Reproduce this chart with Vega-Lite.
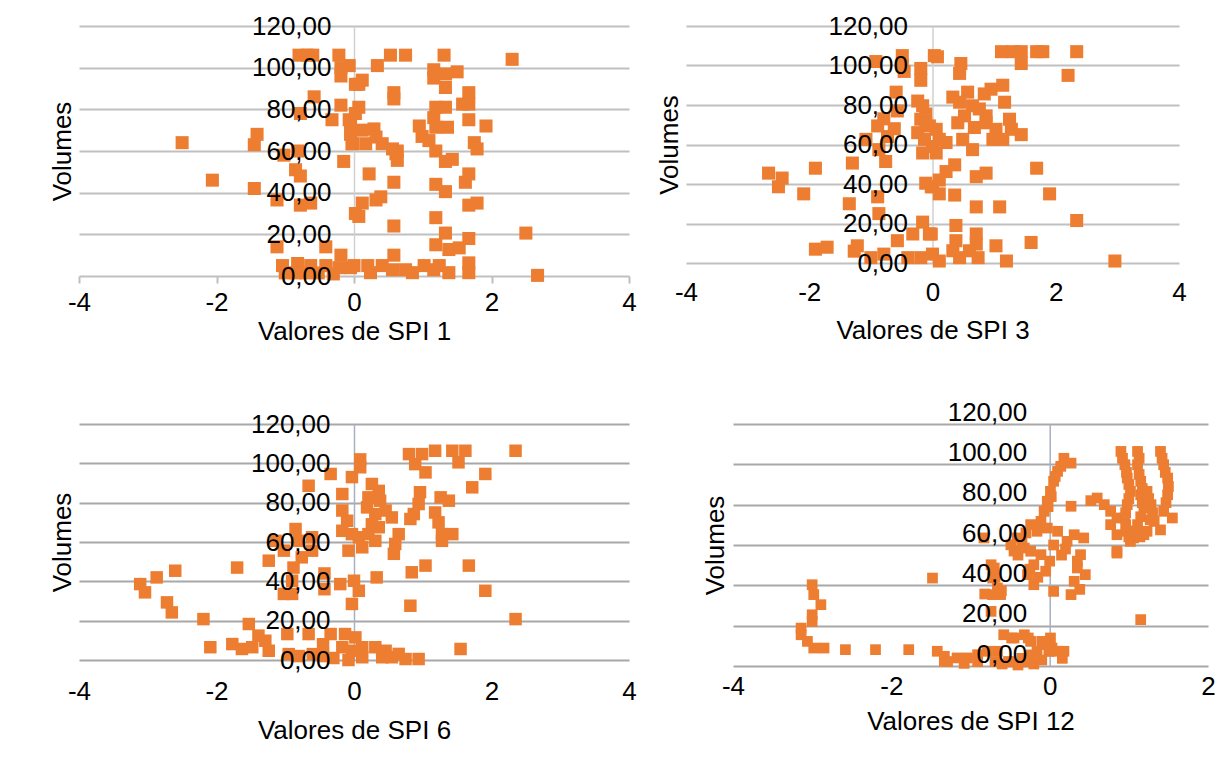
{
  "$schema": "https://vega.github.io/schema/vega-lite/v6.json",
  "padding": {"left": 49, "top": 13, "right": 0, "bottom": 0},
  "background": "white",
  "config": {
    "view": {"stroke": null},
    "axis": {
      "labelFont": "Liberation Sans", "titleFont": "Liberation Sans",
      "labelFontSize": 26, "titleFontSize": 26, "labelColor": "#000000", "titleColor": "#000000",
      "titleFontWeight": "normal", "labelFlush": false, "labelOverlap": false, "labelBound": false
    }
  },
  "datasets": {
    "p1": [
      {"x":-2.5,"y":64},{"x":-2.06,"y":46},{"x":-1.45,"y":42},{"x":-1.41,"y":68},{"x":-1.45,"y":63},
      {"x":-0.8,"y":106},{"x":-0.68,"y":106},{"x":-0.6,"y":106},{"x":-0.22,"y":106},
      {"x":-0.19,"y":100},{"x":-0.07,"y":101},{"x":-0.19,"y":96},{"x":0.02,"y":92},
      {"x":-0.58,"y":86},{"x":-0.78,"y":78},{"x":-0.19,"y":82},{"x":-0.32,"y":75},{"x":-0.05,"y":73},{"x":-0.05,"y":68},{"x":-0.03,"y":63.5},{"x":-0.15,"y":55},
      {"x":-1.02,"y":58},{"x":-0.82,"y":60},{"x":-0.85,"y":51},{"x":-0.78,"y":48},
      {"x":-1.12,"y":36.5},{"x":-0.78,"y":34},{"x":-0.63,"y":35},{"x":0.02,"y":30},
      {"x":-1.12,"y":14},{"x":-0.41,"y":14},{"x":-0.19,"y":10},
      {"x":-1.04,"y":5},{"x":-0.82,"y":6},{"x":-0.63,"y":5},{"x":-0.41,"y":5},{"x":-0.22,"y":4},{"x":-0.05,"y":4},
      {"x":-1.0,"y":1.5},{"x":-0.85,"y":1.5},{"x":-0.7,"y":1.5},{"x":-0.52,"y":1.5},{"x":-0.3,"y":1},
      {"x":0.34,"y":101},{"x":0.53,"y":106},{"x":0.75,"y":106},{"x":0.12,"y":94},{"x":0.07,"y":92},{"x":0.58,"y":88},{"x":0.58,"y":85},
      {"x":1.31,"y":106},{"x":2.3,"y":104},{"x":1.16,"y":99},{"x":1.16,"y":95},{"x":1.33,"y":97},{"x":1.5,"y":98},{"x":1.33,"y":90.5},
      {"x":1.67,"y":88},{"x":1.58,"y":82.5},{"x":1.67,"y":82.5},{"x":1.67,"y":75},{"x":1.92,"y":72},{"x":1.75,"y":64},{"x":1.79,"y":61},
      {"x":1.19,"y":81},{"x":1.33,"y":81},{"x":1.16,"y":76},{"x":1.19,"y":71.4},{"x":1.36,"y":71.4},
      {"x":0.95,"y":72},{"x":0.99,"y":67},{"x":1.09,"y":65},{"x":1.19,"y":60},
      {"x":1.33,"y":55},{"x":1.43,"y":56},{"x":1.67,"y":49},{"x":1.62,"y":45},{"x":1.19,"y":44},{"x":1.33,"y":40.5},{"x":1.67,"y":34},{"x":1.79,"y":35},
      {"x":1.19,"y":28},{"x":1.33,"y":20.6},{"x":1.19,"y":15},{"x":1.67,"y":18},{"x":2.5,"y":20.6},{"x":2.67,"y":0.3},{"x":1.38,"y":12.7},{"x":1.53,"y":13.5},{"x":1.67,"y":6.3},{"x":1.67,"y":1.6},
      {"x":0.02,"y":78},{"x":0.07,"y":81},{"x":-0.07,"y":75},{"x":0.12,"y":70},{"x":-0.02,"y":63.5},{"x":0.17,"y":63.5},{"x":0.29,"y":70.6},{"x":0.32,"y":66.7},{"x":0.41,"y":63.5},{"x":0.56,"y":61},{"x":0.63,"y":60},{"x":0.63,"y":55.5},{"x":0.61,"y":58.7},
      {"x":0.22,"y":49},{"x":0.58,"y":45},{"x":0.12,"y":35},{"x":0.32,"y":36.5},{"x":0.39,"y":38},{"x":0.07,"y":28.6},{"x":0.58,"y":24},{"x":0.58,"y":10},
      {"x":0.0,"y":5},{"x":0.2,"y":5},{"x":0.24,"y":1.6},{"x":0.41,"y":5},{"x":0.56,"y":3},{"x":0.75,"y":3},{"x":0.85,"y":1.6},{"x":1.02,"y":5},{"x":1.16,"y":3},{"x":1.24,"y":5},{"x":1.38,"y":1.6}
    ],
    "p2": [
      {"x":-2.66,"y":45.5},{"x":-2.44,"y":43},{"x":-2.5,"y":38.6},{"x":-2.09,"y":35},{"x":-1.9,"y":48},{"x":-1.9,"y":7},{"x":-1.71,"y":8},
      {"x":-1.3,"y":50.6},{"x":-1.35,"y":30},{"x":-1.22,"y":8.7},{"x":-1.27,"y":6},{"x":-0.89,"y":33.5},{"x":-0.87,"y":25},{"x":-0.76,"y":51.4},
      {"x":-0.87,"y":57.4},{"x":-0.73,"y":64},{"x":-0.62,"y":68},{"x":-0.89,"y":69.4},{"x":-0.79,"y":73},{"x":-1.08,"y":62.6},
      {"x":-0.59,"y":86.5},{"x":-0.57,"y":77},{"x":-0.49,"y":105},{"x":-0.49,"y":100},{"x":-0.46,"y":97},{"x":-0.92,"y":102},
      {"x":-0.19,"y":98.5},{"x":-0.19,"y":92.5},{"x":-0.24,"y":82},{"x":-0.16,"y":79.6},{"x":-0.11,"y":75.4},{"x":-0.19,"y":72.8},{"x":-0.24,"y":66},{"x":-0.13,"y":62.6},{"x":-0.16,"y":55.7},
      {"x":-0.05,"y":69.4},{"x":0.0,"y":59},{"x":-0.11,"y":40.4},{"x":0.0,"y":38.6},{"x":0.03,"y":105},
      {"x":-0.32,"y":14.7},{"x":-0.16,"y":20.7},{"x":-0.05,"y":14.7},{"x":-0.57,"y":11.3},{"x":-0.4,"y":2.7},{"x":-0.19,"y":2.7},{"x":-0.79,"y":4.5},{"x":-1.0,"y":2.7},
      {"x":0.08,"y":104.4},{"x":0.46,"y":101},{"x":0.44,"y":96},{"x":1.12,"y":107},{"x":1.31,"y":107},{"x":1.44,"y":107},{"x":1.69,"y":107},{"x":1.79,"y":107},{"x":1.44,"y":101},{"x":2.34,"y":107},{"x":2.2,"y":95},
      {"x":1.14,"y":90},{"x":0.95,"y":88},{"x":0.84,"y":85.6},{"x":1.17,"y":81.4},
      {"x":0.57,"y":86.5},{"x":0.44,"y":81.4},{"x":0.33,"y":84},{"x":0.65,"y":79.6},{"x":0.52,"y":74.5},{"x":0.76,"y":78},{"x":0.87,"y":74.5},
      {"x":0.41,"y":71},{"x":0.68,"y":68.6},{"x":0.87,"y":71},{"x":0.98,"y":62.6},{"x":1.03,"y":67.7},{"x":1.25,"y":72.8},{"x":1.28,"y":67.7},{"x":1.44,"y":65},{"x":1.14,"y":62.6},
      {"x":-0.11,"y":71},{"x":0.06,"y":67.7},{"x":0.11,"y":62.6},{"x":0.06,"y":55.7},{"x":0.22,"y":61},{"x":0.49,"y":62.6},{"x":0.65,"y":57.4},
      {"x":1.69,"y":48},{"x":1.9,"y":35},{"x":0.36,"y":49.7},{"x":0.22,"y":46.3},{"x":0.11,"y":42},{"x":0.71,"y":43.7},{"x":0.87,"y":45.5},
      {"x":-0.02,"y":38.6},{"x":0.11,"y":35},{"x":0.36,"y":34.4},{"x":0.71,"y":28.4},{"x":1.09,"y":28.4},{"x":2.34,"y":21.5},{"x":0.38,"y":19},{"x":0.71,"y":14.7},{"x":1.6,"y":10.4},{"x":1.03,"y":8.7},{"x":1.2,"y":1},{"x":2.96,"y":1},{"x":-0.02,"y":14.7},
      {"x":0.0,"y":4.5},{"x":0.11,"y":1},{"x":0.38,"y":11.3},{"x":0.44,"y":2.7},{"x":0.33,"y":6.2},{"x":0.6,"y":6.2},{"x":0.74,"y":2.7},{"x":0.71,"y":9.6}
    ],
    "p3": [
      {"x":-3.11,"y":38.6},{"x":-3.04,"y":34.4},{"x":-2.87,"y":42},{"x":-2.6,"y":45.4},{"x":-2.72,"y":29.3},{"x":-2.65,"y":24.2},{"x":-2.19,"y":20.8},{"x":-2.09,"y":6.5},
      {"x":-1.77,"y":8.1},{"x":-1.63,"y":5.6},{"x":-1.48,"y":6.5},{"x":-1.53,"y":18.3},{"x":-1.39,"y":12.4},{"x":-1.29,"y":9.8},{"x":-1.24,"y":4.7},
      {"x":-1.7,"y":47},{"x":-1.24,"y":50.5},{"x":-1.14,"y":60.6},{"x":-1.02,"y":55.6},{"x":-1.02,"y":33.6},{"x":-0.9,"y":33.6},{"x":-0.85,"y":66.6},{"x":-0.8,"y":60.6},{"x":-0.76,"y":52.2},{"x":-0.88,"y":47},{"x":-0.61,"y":62.4},{"x":-0.61,"y":55.6},{"x":-0.9,"y":40.3},
      {"x":-0.66,"y":88.6},{"x":-0.34,"y":94.6},{"x":-0.97,"y":13.2},{"x":-0.66,"y":13.2},{"x":-0.34,"y":13.2},{"x":-0.43,"y":44},{"x":-0.43,"y":36},{"x":-0.2,"y":38.6},
      {"x":0.0,"y":40.3},{"x":0.07,"y":35.2},{"x":-0.03,"y":28.5},{"x":0.09,"y":102},{"x":0.09,"y":98},{"x":-0.03,"y":93},
      {"x":0.26,"y":89.5},{"x":0.36,"y":86},{"x":0.21,"y":82.7},{"x":0.38,"y":81},{"x":0.46,"y":76},{"x":0.55,"y":72.5},{"x":0.31,"y":74.2},{"x":0.19,"y":77.6},{"x":0.26,"y":69},{"x":0.36,"y":67.5},
      {"x":-0.17,"y":84.4},{"x":-0.17,"y":76},{"x":-0.1,"y":70.8},{"x":-0.17,"y":65.7},{"x":-0.03,"y":64},{"x":0.07,"y":62.4},{"x":-0.08,"y":55.6},{"x":0.12,"y":57.3},{"x":0.21,"y":64},{"x":0.31,"y":60.6},
      {"x":0.65,"y":64},{"x":0.6,"y":59},{"x":0.58,"y":54},
      {"x":0.8,"y":104.7},{"x":0.99,"y":104.7},{"x":1.18,"y":106.4},{"x":1.43,"y":106.4},{"x":1.62,"y":106.4},{"x":1.52,"y":100.5},{"x":0.89,"y":99.6},{"x":1.04,"y":95.4},{"x":2.35,"y":106.4},{"x":1.91,"y":94.6},{"x":1.72,"y":87.8},
      {"x":0.96,"y":85.3},{"x":0.94,"y":79.3},{"x":0.87,"y":74.2},{"x":0.82,"y":71.7},
      {"x":1.26,"y":82.7},{"x":1.38,"y":81},{"x":1.18,"y":75},{"x":1.23,"y":70},{"x":1.28,"y":64},{"x":1.43,"y":64},{"x":1.28,"y":60.6},
      {"x":1.04,"y":48},{"x":0.84,"y":44.6},{"x":1.67,"y":48},{"x":0.33,"y":42},{"x":1.91,"y":35.2},{"x":0.82,"y":27.6},{"x":2.35,"y":20.8},{"x":1.55,"y":5.6},{"x":0.94,"y":0.5},
      {"x":-0.13,"y":13.2},{"x":0.02,"y":11.5},{"x":-0.17,"y":6.5},{"x":-0.03,"y":4.7},{"x":0.12,"y":6.5},{"x":0.31,"y":6.5},{"x":0.46,"y":4.7},{"x":0.41,"y":1.4},{"x":0.55,"y":1.4},{"x":0.65,"y":3.1},{"x":0.75,"y":0.5},{"x":0.12,"y":1.4},{"x":-0.08,"y":0},
      {"x":-0.95,"y":3},{"x":-0.8,"y":2},{"x":-0.6,"y":3},{"x":-0.45,"y":2},{"x":-0.3,"y":1},{"x":-0.45,"y":8}
    ],
    "p4": [
      {"x":-3.0,"y":40.3},{"x":-2.98,"y":35.4},{"x":-2.89,"y":30.4},{"x":-3.0,"y":25.4},{"x":-3.0,"y":22.1},{"x":-3.14,"y":18.8},{"x":-3.14,"y":15.5},{"x":-3.06,"y":12.2},{"x":-2.98,"y":8.9},{"x":-2.85,"y":8.9},
      {"x":-2.58,"y":8.1},{"x":-2.2,"y":8.1},{"x":-1.78,"y":8.1},{"x":-1.48,"y":43.6},
      {"x":-1.42,"y":7.3},{"x":-1.33,"y":4.8},{"x":-1.33,"y":2.3},{"x":-1.17,"y":4},{"x":-1.04,"y":4},{"x":-0.91,"y":5.6},{"x":-0.79,"y":7.3},{"x":-0.66,"y":7.3},
      {"x":-0.83,"y":63.5},{"x":-0.74,"y":50.2},{"x":-0.72,"y":43.6},{"x":-0.72,"y":35.4},{"x":-0.74,"y":27.1},{"x":-0.69,"y":44},{"x":-0.61,"y":37.3},{"x":-0.82,"y":35.7},
      {"x":-1.29,"y":2.2},{"x":-1.08,"y":1.3},{"x":-0.91,"y":2.2},{"x":-0.69,"y":2.2},{"x":-0.52,"y":2.2},{"x":-0.35,"y":3.8},{"x":-0.23,"y":5.5},{"x":-0.01,"y":7.2},{"x":0.16,"y":3.8},
      {"x":-0.48,"y":13.9},{"x":-0.27,"y":13.9},{"x":-0.1,"y":12.2},{"x":0.03,"y":8.9},
      {"x":0.18,"y":103},{"x":0.27,"y":100.6},{"x":0.1,"y":96.5},{"x":0.05,"y":91.6},{"x":0.01,"y":86.6},{"x":-0.03,"y":81.7},{"x":-0.07,"y":76.7},{"x":0.27,"y":79.2},
      {"x":0.02,"y":84},{"x":-0.02,"y":79},{"x":0.07,"y":94},{"x":0.14,"y":99},
      {"x":-0.11,"y":71.7},{"x":-0.24,"y":70.1},{"x":-0.41,"y":63.5},{"x":-0.49,"y":60.1},{"x":-0.32,"y":58.5},{"x":-0.16,"y":66.8},{"x":-0.03,"y":68.4},{"x":0.1,"y":66.8},{"x":0.22,"y":61.8},{"x":0.31,"y":65.1},
      {"x":-0.24,"y":56.9},{"x":-0.2,"y":50.2},{"x":-0.11,"y":55.2},{"x":-0.28,"y":45.3},{"x":-0.2,"y":40.3},{"x":0.05,"y":37},{"x":0.27,"y":35.4},{"x":0.31,"y":42},{"x":0.35,"y":48.6},{"x":0.39,"y":55.2},{"x":0.43,"y":63.5},{"x":0.45,"y":45.3},
      {"x":-0.35,"y":62},{"x":-0.3,"y":66},{"x":-0.45,"y":57},{"x":0.05,"y":60},{"x":0.2,"y":58},{"x":0.35,"y":52},{"x":0.38,"y":38},{"x":-0.15,"y":44},{"x":-0.25,"y":48},
      {"x":-0.7,"y":48.6},{"x":-0.66,"y":38.7},{"x":-0.62,"y":35.4},
      {"x":-0.05,"y":47},{"x":0.0,"y":52},{"x":-0.4,"y":55},{"x":0.15,"y":55},
      {"x":0.6,"y":83.3},{"x":0.69,"y":80},{"x":0.77,"y":76.7},{"x":0.85,"y":73.4},{"x":0.77,"y":70.1},{"x":0.85,"y":65.1},{"x":0.85,"y":56.9},
      {"x":0.9,"y":106.4},{"x":0.95,"y":99.8},{"x":0.98,"y":93.2},{"x":1.02,"y":86.6},{"x":0.98,"y":80},{"x":0.95,"y":73.4},{"x":0.98,"y":66.8},{"x":1.02,"y":61.8},
      {"x":0.92,"y":103},{"x":0.97,"y":96},{"x":1.0,"y":90},{"x":1.0,"y":83},{"x":0.96,"y":76},{"x":0.96,"y":70},{"x":1.0,"y":64},
      {"x":1.11,"y":106.4},{"x":1.11,"y":99.8},{"x":1.15,"y":91.6},{"x":1.15,"y":84.9},{"x":1.19,"y":78.3},{"x":1.11,"y":70.1},{"x":1.06,"y":63.5},{"x":1.19,"y":65.1},
      {"x":1.13,"y":103},{"x":1.13,"y":95},{"x":1.17,"y":88},{"x":1.17,"y":81},{"x":1.15,"y":74},{"x":1.09,"y":67},{"x":1.14,"y":64},
      {"x":1.23,"y":86.6},{"x":1.28,"y":80},{"x":1.32,"y":71.7},{"x":1.23,"y":66.8},{"x":1.27,"y":72.5},{"x":1.25,"y":83},{"x":1.3,"y":76},{"x":1.4,"y":67.5},
      {"x":1.4,"y":106.4},{"x":1.44,"y":99.8},{"x":1.49,"y":93.2},{"x":1.49,"y":84.9},{"x":1.44,"y":76.7},{"x":1.55,"y":73.4},{"x":1.42,"y":103},{"x":1.46,"y":96},{"x":1.5,"y":89},{"x":1.47,"y":81},
      {"x":0.85,"y":56},{"x":1.15,"y":23},{"x":0.52,"y":82},
      {"x":-0.58,"y":15.5},{"x":-0.45,"y":13.9},{"x":-0.32,"y":15.5},{"x":-0.24,"y":12.2},{"x":-0.16,"y":7.3},{"x":-0.07,"y":10.6},{"x":0.01,"y":13.9},{"x":0.1,"y":7.3},{"x":0.18,"y":7.3},
      {"x":-0.6,"y":1},{"x":-0.5,"y":2},{"x":-0.4,"y":0.5},{"x":-0.3,"y":2},{"x":-0.2,"y":1},{"x":-0.1,"y":3}
    ]
  },
  "vconcat": [
    {
      "hconcat": [
        {
          "width": 550, "height": 250,
          "data": {"name": "p1"},
          "layer": [
            {
              "mark": {"type": "square", "size": 170, "color": "#ED7D31", "opacity": 1, "clip": false},
              "encoding": {
                "x": {"field": "x", "type": "quantitative", "scale": {"domain": [-4, 4], "nice": false, "zero": false},
                  "axis": {"orient": "bottom", "values": [-4, -2, 0, 2, 4], "grid": false, "domain": false, "ticks": true, "tickSize": 7, "tickColor": "#bfbfbf", "tickWidth": 2, "labelPadding": 6, "labelExpr": "datum.value + ''", "title": "Valores de SPI 1", "titlePadding": 3}},
                "y": {"field": "y", "type": "quantitative", "scale": {"domain": [0, 120], "nice": false, "zero": false},
                  "axis": {"orient": "left", "offset": -275, "values": [0, 20, 40, 60, 80, 100, 120], "grid": true, "gridColor": "#c0c0c0", "gridWidth": 2, "labels": false, "ticks": false, "domain": true, "domainColor": "#d0d0d0", "domainWidth": 1.5, "title": "Volumes", "titleX": -292, "titleBaseline": "middle", "zindex": 0}}
              }
            },
            {
              "mark": {"type": "square", "size": 170, "opacity": 0},
              "encoding": {
                "x": {"field": "x", "type": "quantitative"},
                "y": {"field": "y", "type": "quantitative",
                  "axis": {"orient": "left", "offset": -275, "values": [0, 20, 40, 60, 80, 100, 120], "grid": false, "domain": false, "ticks": false, "tickSize": 0, "labelPadding": 23, "labelExpr": "replace(format(datum.value, '.2f'), '.', ',')", "title": null, "zindex": 1}}
              }
            }
          ],
          "resolve": {"axis": {"y": "independent"}}
        },
        {
          "width": 493, "height": 237,
          "data": {"name": "p2"},
          "layer": [
            {
              "mark": {"type": "square", "size": 170, "color": "#ED7D31", "opacity": 1, "clip": false},
              "encoding": {
                "x": {"field": "x", "type": "quantitative", "scale": {"domain": [-4, 4], "nice": false, "zero": false},
                  "axis": {"orient": "bottom", "values": [-4, -2, 0, 2, 4], "grid": false, "domain": false, "ticks": false, "tickSize": 0, "labelPadding": 16, "labelExpr": "datum.value + ''", "title": "Valores de SPI 3", "titlePadding": 12}},
                "y": {"field": "y", "type": "quantitative", "scale": {"domain": [0, 120], "nice": false, "zero": false},
                  "axis": {"orient": "left", "offset": -246.5, "values": [0, 20, 40, 60, 80, 100, 120], "grid": true, "gridColor": "#c0c0c0", "gridWidth": 2, "labels": false, "ticks": false, "domain": true, "domainColor": "#d0d0d0", "domainWidth": 1.5, "title": "Volumes", "titleX": -263.5, "titleBaseline": "middle", "zindex": 0}}
              }
            },
            {
              "mark": {"type": "square", "size": 170, "opacity": 0},
              "encoding": {
                "x": {"field": "x", "type": "quantitative"},
                "y": {"field": "y", "type": "quantitative",
                  "axis": {"orient": "left", "offset": -246.5, "values": [0, 20, 40, 60, 80, 100, 120], "grid": false, "domain": false, "ticks": false, "tickSize": 0, "labelPadding": 25, "labelExpr": "replace(format(datum.value, '.2f'), '.', ',')", "title": null, "zindex": 1}}
              }
            }
          ],
          "resolve": {"axis": {"y": "independent"}}
        }
      ],
      "spacing": 57,
      "bounds": "flush"
    },
    {
      "hconcat": [
        {
          "width": 550, "height": 236,
          "data": {"name": "p3"},
          "layer": [
            {
              "mark": {"type": "square", "size": 156, "color": "#ED7D31", "opacity": 1, "clip": false},
              "encoding": {
                "x": {"field": "x", "type": "quantitative", "scale": {"domain": [-4, 4], "nice": false, "zero": false},
                  "axis": {"orient": "bottom", "values": [-4, -2, 0, 2, 4], "grid": false, "domain": false, "ticks": false, "tickSize": 0, "labelPadding": 18, "labelExpr": "datum.value + ''", "title": "Valores de SPI 6", "titlePadding": 13}},
                "y": {"field": "y", "type": "quantitative", "scale": {"domain": [0, 120], "nice": false, "zero": false},
                  "axis": {"orient": "left", "offset": -275, "values": [0, 20, 40, 60, 80, 100, 120], "grid": true, "gridColor": "#a8a8a8", "gridWidth": 2, "labels": false, "ticks": false, "domain": true, "domainColor": "#a8b0c0", "domainWidth": 1.5, "title": "Volumes", "titleX": -292, "titleBaseline": "middle", "zindex": 0}}
              }
            },
            {
              "mark": {"type": "square", "size": 156, "opacity": 0},
              "encoding": {
                "x": {"field": "x", "type": "quantitative"},
                "y": {"field": "y", "type": "quantitative",
                  "axis": {"orient": "left", "offset": -275, "values": [0, 20, 40, 60, 80, 100, 120], "grid": false, "domain": false, "ticks": false, "tickSize": 0, "labelPadding": 24, "labelExpr": "replace(format(datum.value, '.2f'), '.', ',')", "title": null, "zindex": 1}}
              }
            }
          ],
          "resolve": {"axis": {"y": "independent"}}
        },
        {
          "width": 475, "height": 242,
          "data": {"name": "p4"},
          "layer": [
            {
              "mark": {"type": "square", "size": 115, "color": "#ED7D31", "opacity": 1, "clip": false},
              "encoding": {
                "x": {"field": "x", "type": "quantitative", "scale": {"domain": [-4, 2], "nice": false, "zero": false},
                  "axis": {"orient": "bottom", "values": [-4, -2, 0, 2], "grid": false, "domain": false, "ticks": false, "tickSize": 0, "labelPadding": 7, "labelExpr": "datum.value + ''", "title": "Valores de SPI 12", "titlePadding": 9}},
                "y": {"field": "y", "type": "quantitative", "scale": {"domain": [0, 120], "nice": false, "zero": false},
                  "axis": {"orient": "left", "offset": -316.7, "values": [0, 20, 40, 60, 80, 100, 120], "grid": true, "gridColor": "#a8a8a8", "gridWidth": 2, "labels": false, "ticks": false, "domain": true, "domainColor": "#a8b0c0", "domainWidth": 1.5, "title": "Volumes", "titleX": -333.7, "titleBaseline": "middle", "zindex": 0}}
              }
            },
            {
              "mark": {"type": "square", "size": 115, "opacity": 0},
              "encoding": {
                "x": {"field": "x", "type": "quantitative"},
                "y": {"field": "y", "type": "quantitative",
                  "axis": {"orient": "left", "offset": -316.7, "values": [0, 20, 40, 60, 80, 100, 120], "grid": false, "domain": false, "ticks": false, "tickSize": 0, "labelPadding": 23, "labelOffset": -12, "labelExpr": "replace(format(datum.value, '.2f'), '.', ',')", "title": null, "zindex": 1}}
              }
            }
          ],
          "resolve": {"axis": {"y": "independent"}}
        }
      ],
      "spacing": 104,
      "bounds": "flush"
    }
  ],
  "spacing": 55,
  "bounds": "full"
}
